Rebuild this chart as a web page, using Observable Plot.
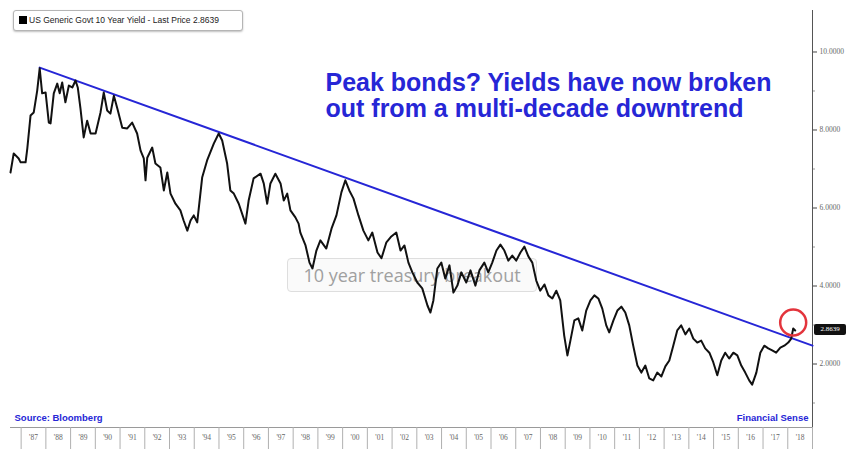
<!DOCTYPE html>
<html><head><meta charset="utf-8">
<script src="https://cdn.jsdelivr.net/npm/d3@7"></script>
<script src="https://cdn.jsdelivr.net/npm/@observablehq/plot@0.6"></script>
<style>
html,body{margin:0;padding:0;background:#fff;}
#wrap{position:relative;width:847px;height:449px;overflow:hidden;font-family:"Liberation Sans",Arial,sans-serif;}
#chart{position:absolute;left:0;top:0;z-index:2;}
#legend{position:absolute;left:13px;top:10px;width:230px;height:21px;box-sizing:border-box;border:1px solid #b5b5b5;border-radius:3px;box-shadow:0 1px 2px rgba(0,0,0,.25);background:#fff;font-size:8.5px;line-height:19px;color:#222;z-index:3;padding-left:5px;white-space:nowrap;}
#legend i{display:inline-block;width:8px;height:8px;background:#000;vertical-align:-1px;margin-right:2px;}
#tipbox{position:absolute;left:287px;top:258px;width:250px;height:34px;box-sizing:border-box;border:1px solid #dedede;border-radius:4px;background:rgba(248,248,248,.75);color:#a0a0a0;font-size:18px;line-height:32px;text-align:center;z-index:1;font-family:"Open Sans","Liberation Sans",sans-serif;}
#lastbox{position:absolute;left:814px;width:32px;height:11px;background:#111;color:#fff;font-size:7px;line-height:11px;text-align:center;border-radius:2px;z-index:3;font-family:"Liberation Serif",serif;}
</style>
</head><body>
<div id="wrap">
  <div id="legend"><i></i>US Generic Govt 10 Year Yield - Last Price 2.8639</div>
  <div id="tipbox">10 year treasury breakout</div>
  <div id="lastbox">2.8639</div>
</div>
<script>
// Decimal-year dates and yields (%)
const dates = [
1986.57,1986.70,1986.90,1986.98,1987.18,1987.25,1987.38,1987.51,1987.65,1987.75,
1987.85,1987.99,1988.12,1988.19,1988.32,1988.46,1988.56,1988.66,1988.79,1988.93,
1989.07,1989.20,1989.29,1989.40,1989.53,1989.67,1989.81,1990.01,1990.21,1990.34,
1990.48,1990.61,1990.75,1990.89,1991.09,1991.29,1991.49,1991.69,1991.83,1991.96,
1992.03,1992.10,1992.30,1992.43,1992.63,1992.77,1992.91,1993.04,1993.24,1993.44,
1993.57,1993.72,1993.85,1993.98,1994.12,1994.32,1994.52,1994.79,1994.99,1995.13,
1995.33,1995.46,1995.60,1995.80,1996.07,1996.20,1996.40,1996.68,1996.81,1996.95,
1997.08,1997.28,1997.49,1997.62,1997.76,1997.89,1998.09,1998.22,1998.29,1998.50,
1998.66,1998.78,1998.94,1999.10,1999.34,1999.55,1999.75,1999.95,2000.11,2000.27,
2000.44,2000.64,2000.84,2001.04,2001.20,2001.41,2001.57,2001.77,2001.97,2002.17,
2002.34,2002.50,2002.66,2002.82,2003.02,2003.22,2003.43,2003.55,2003.67,2003.83,
2003.99,2004.15,2004.32,2004.48,2004.64,2004.80,2005.00,2005.17,2005.37,2005.53,
2005.73,2005.89,2006.05,2006.22,2006.38,2006.54,2006.70,2006.86,2007.02,2007.19,
2007.35,2007.51,2007.67,2007.83,2007.99,2008.16,2008.32,2008.48,2008.64,2008.80,
2008.96,2009.09,2009.21,2009.37,2009.53,2009.69,2009.85,2010.02,2010.18,2010.34,
2010.50,2010.66,2010.78,2010.95,2011.11,2011.27,2011.43,2011.59,2011.75,2011.92,
2012.08,2012.24,2012.40,2012.56,2012.72,2012.89,2013.05,2013.21,2013.37,2013.53,
2013.69,2013.86,2014.02,2014.18,2014.34,2014.50,2014.66,2014.83,2014.99,2015.15,
2015.31,2015.47,2015.63,2015.80,2015.96,2016.12,2016.28,2016.44,2016.56,2016.73,
2016.89,2017.05,2017.21,2017.37,2017.53,2017.70,2017.86,2018.02,2018.14,2018.22,
2018.30];
const yields = [
6.91,7.40,7.27,7.17,7.17,7.53,8.37,8.45,9.01,9.58,
8.94,8.96,8.19,8.17,8.94,9.19,8.94,9.22,8.71,9.14,
9.09,9.27,9.09,8.55,7.81,8.24,7.91,7.91,8.45,8.96,
8.50,8.42,8.88,8.55,8.06,8.04,8.19,7.91,7.47,7.27,
6.71,7.29,7.55,7.14,7.04,6.45,6.91,6.37,6.11,5.94,
5.68,5.42,5.68,5.81,5.63,6.78,7.22,7.65,7.91,7.73,
7.14,6.45,6.37,6.11,5.60,6.19,6.76,6.88,6.63,6.11,
6.63,6.88,6.63,6.19,6.37,5.94,5.76,5.60,5.37,5.04,
4.60,4.45,4.91,5.17,4.96,5.47,5.81,6.40,6.71,6.45,
6.24,5.81,5.42,5.17,5.37,4.86,4.71,5.12,5.27,5.37,
4.91,5.04,4.60,4.35,4.09,3.94,3.50,3.32,3.63,4.45,
4.60,4.19,4.53,3.83,4.01,4.35,4.09,4.40,4.01,4.40,
4.60,4.35,4.60,4.91,5.06,4.91,4.65,4.78,4.65,4.86,
5.01,4.76,4.60,4.14,3.88,4.04,3.76,3.68,3.88,3.63,
2.73,2.22,2.60,3.12,3.17,2.86,3.37,3.63,3.76,3.68,
3.42,2.99,2.81,3.12,3.37,3.47,3.32,2.99,2.47,1.96,
1.78,1.96,1.63,1.58,1.78,1.68,1.94,2.09,2.47,2.86,
2.99,2.76,2.91,2.65,2.55,2.60,2.40,2.29,2.04,1.71,
2.09,2.29,2.14,2.29,2.22,1.96,1.78,1.58,1.47,1.78,
2.29,2.47,2.40,2.35,2.29,2.42,2.47,2.55,2.65,2.91,
2.86];
// Downtrend line through the 1987 peak
const trendDates = [1987.75, 2019.0];
const trendYields = [9.60, 2.47];
// Axis ticks
const yearStarts = d3.range(1987, 2020);
const yearLabels = d3.range(1987, 2019);
const majorYTicks = [2, 4, 6, 8, 10];
const minorYTicks = [1, 3, 5, 7, 9];
const lastPrice = 2.8639;
const titleText = "Peak bonds? Yields have now broken\nout from a multi-decade downtrend";

const series = dates.map((t, i) => ({t, v: yields[i]}));
const trend = trendDates.map((t, i) => ({t, v: trendYields[i]}));
const last = series[series.length - 1];
const xDomain = [1986.57, 2019.0];
const blue = "#2626d6";

const chart = Plot.plot({
  width: 847, height: 449,
  marginLeft: 10, marginRight: 35, marginTop: 10, marginBottom: 22,
  style: {background: "transparent", fontFamily: "'Liberation Sans', Arial, sans-serif", overflow: "visible"},
  x: {domain: xDomain},
  y: {domain: [0.372, 11.064]},
  marks: [
    Plot.ruleY([0.372], {stroke: "#9a9a9a", strokeWidth: 1}),
    Plot.ruleX([xDomain[1]], {stroke: "#555", strokeWidth: 1}),
    Plot.axisX({ticks: yearStarts, tickSize: 22, tickFormat: () => "", stroke: "#b0b0b0", label: null}),
    Plot.axisX({ticks: yearLabels.map(y => y + 0.5), tickSize: 0, tickPadding: 7, label: null,
      tickFormat: d => "'" + String(Math.floor(d) % 100).padStart(2, "0"),
      fontSize: 7.5, fill: "#666", fontFamily: "'Liberation Serif', serif"}),
    Plot.axisY({anchor: "right", ticks: majorYTicks, tickSize: 4, tickPadding: 3, label: null,
      tickFormat: d => d.toFixed(4), fontSize: 7.5, fill: "#666", stroke: "#444",
      fontFamily: "'Liberation Serif', serif"}),
    Plot.axisY({anchor: "right", ticks: minorYTicks, tickSize: 2, tickFormat: () => "", label: null, stroke: "#999"}),
    Plot.line(trend, {x: "t", y: "v", stroke: blue, strokeWidth: 2}),
    Plot.line(series, {x: "t", y: "v", stroke: "#111", strokeWidth: 2, curve: "linear"}),
    Plot.dot([last], {x: "t", y: "v", r: 13, dx: -2, dy: -8, stroke: "#e3343c", strokeWidth: 2.5, fill: "none"}),
    Plot.text([titleText], {frameAnchor: "top-left", dx: 315, dy: 62, text: d => d, lineAnchor: "top",
      lineHeight: 1.05, textAnchor: "start", fontSize: 25, fontWeight: "bold", fill: blue}),
    Plot.text(["Source: Bloomberg"], {frameAnchor: "bottom-left", dx: 4, dy: -7, text: d => d,
      textAnchor: "start", fontSize: 9.5, fontWeight: "bold", fill: blue}),
    Plot.text(["Financial Sense"], {frameAnchor: "bottom-right", dx: -4, dy: -7, text: d => d,
      textAnchor: "end", fontSize: 9.5, fontWeight: "bold", fill: blue})
  ]
});
chart.id = "chart";
document.getElementById("wrap").appendChild(chart);
const yPix = chart.scale("y").apply(lastPrice);
document.getElementById("lastbox").style.top = (yPix - 5.5) + "px";
</script>
</body></html>
